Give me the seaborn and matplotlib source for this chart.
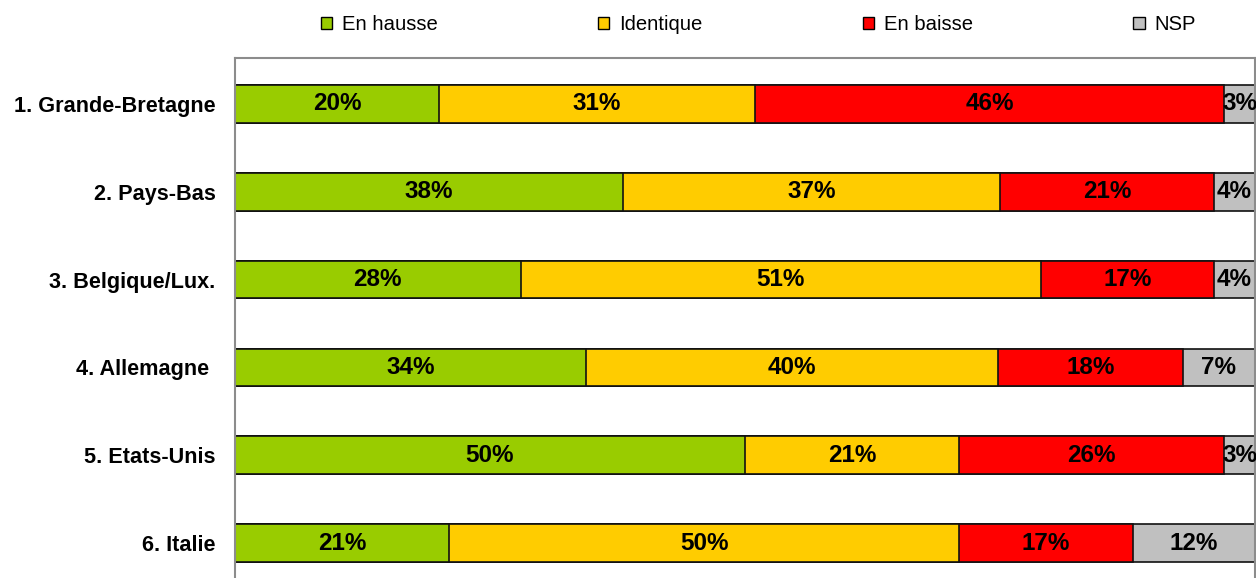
import matplotlib
matplotlib.use("Agg")
import matplotlib.pyplot as plt
from matplotlib.patches import Patch
import numpy as np
import pandas as pd
import seaborn as sns

# Data
countries = ["1. Grande-Bretagne", "2. Pays-Bas", "3. Belgique/Lux.",
             "4. Allemagne ", "5. Etats-Unis", "6. Italie"]
series = ["En hausse", "Identique", "En baisse", "NSP"]
en_hausse = [20, 38, 28, 34.4, 50, 21]
identique = [31, 37, 51, 40.4, 21, 50]
en_baisse = [46, 21, 17, 18.1, 26, 17]
nsp = [3, 4, 4, 7.1, 3, 12]
colors = ["#99CC00", "#FFCC00", "#FF0000", "#C0C0C0"]

sns.set_style("white")
plt.rcParams["font.family"] = ["Liberation Sans", "DejaVu Sans"]
plt.rcParams["text.color"] = "black"
plt.rcParams["ytick.color"] = "black"
plt.rcParams["ytick.labelcolor"] = "black"

df = pd.DataFrame({"pays": countries, "En hausse": en_hausse, "Identique": identique,
                   "En baisse": en_baisse, "NSP": nsp})
vals = df[series].to_numpy()
cum = np.cumsum(vals, axis=1)

fig = plt.figure(figsize=(12.56, 5.78), dpi=100)
ax = fig.add_axes([235 / 1256, -11 / 578, 1020 / 1256, 531 / 578])

# stacked bars: draw cumulative totals from the widest down
for j in range(len(series) - 1, -1, -1):
    sns.barplot(x=cum[:, j], y=df["pays"], color=colors[j], orient="h", width=0.43,
                edgecolor="#111111", linewidth=1.2, saturation=1, ax=ax)

# value labels
for i in range(len(countries)):
    for j in range(len(series)):
        centre = cum[i, j] - vals[i, j] / 2
        ax.text(centre, i, f"{vals[i, j]:.0f}%", ha="center", va="center",
                fontsize=17.5, fontweight="bold", color="black", clip_on=False)

ax.set_xlim(0, 100)
ax.set_ylim(5.52, -0.52)
ax.set_xticks([])
ax.set_xlabel("")
ax.set_ylabel("")
ax.tick_params(axis="y", length=0, pad=14, labelcolor="black")
for lab in ax.get_yticklabels():
    lab.set_fontsize(15.6)
    lab.set_fontweight("bold")
for side in ["left", "top", "right"]:
    ax.spines[side].set_color("#8c8c8c")
    ax.spines[side].set_linewidth(1.5)
ax.spines["bottom"].set_visible(False)

handles = [Patch(facecolor=c, edgecolor="black", linewidth=1, label=s)
           for c, s in zip(colors, series)]
fig.legend(handles=handles, loc="center", bbox_to_anchor=(0.604, 0.957), ncol=4,
           frameon=False, fontsize=14.6, handlelength=0.55, handleheight=0.55,
           handletextpad=0.5, columnspacing=7.9, labelcolor="black")

fig.savefig("out.png", dpi=100)
